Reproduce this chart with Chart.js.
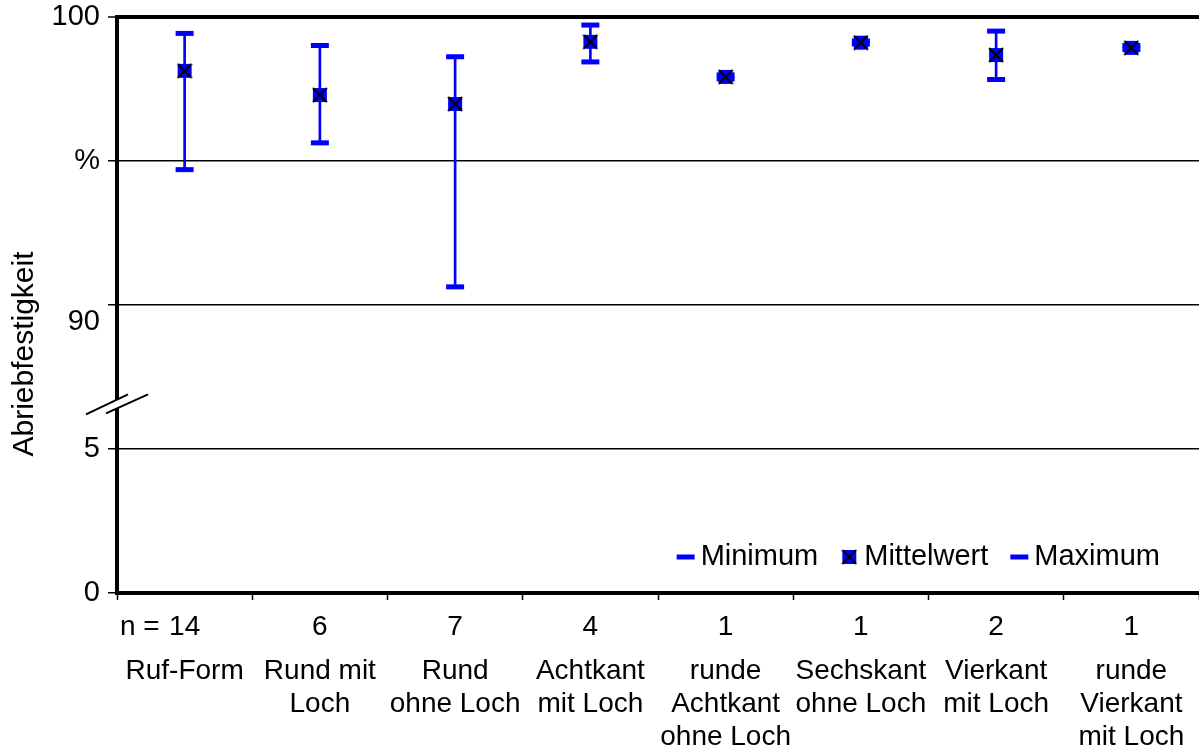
<!DOCTYPE html>
<html>
<head>
<meta charset="utf-8">
<script src="https://cdn.jsdelivr.net/npm/chart.js@4.4.1/dist/chart.umd.min.js"></script>
<style>
  html, body { margin: 0; padding: 0; background: #fff; }
  #wrap { width: 1199px; height: 749px; position: relative; }
</style>
</head>
<body>
<div id="wrap"><canvas id="chart"></canvas></div>
<script>
const categories = [
    ['Ruf-Form'],
    ['Rund mit', 'Loch'],
    ['Rund', 'ohne Loch'],
    ['Achtkant', 'mit Loch'],
    ['runde', 'Achtkant', 'ohne Loch'],
    ['Sechskant', 'ohne Loch'],
    ['Vierkant', 'mit Loch'],
    ['runde', 'Vierkant', 'mit Loch']
];
const sampleCounts = ['14', '6', '7', '4', '1', '1', '2', '1'];
const minimum = [94.70, 95.63, 90.63, 98.44, 97.85, 99.06, 97.83, 98.87];
const mittelwert = [98.13, 97.29, 96.98, 99.14, 97.92, 99.11, 98.68, 98.93];
const maximum = [99.43, 99.01, 98.62, 99.72, 97.99, 99.17, 99.51, 99.01];
// broken axis: lower part 0..5, upper part 90..100
const yTickValues = [80, 85, 90, 95, 100];
const yTickLabels = ['0', '5', '90', '%', '100'];

const BLUE = '#0000ff';
const FONT = "'Liberation Sans', Arial, sans-serif";

function makeMeanIcon() {
    const c = document.createElement('canvas');
    c.width = 16;
    c.height = 16;
    const g = c.getContext('2d');
    g.fillStyle = BLUE;
    g.fillRect(1, 1, 14, 14);
    g.strokeStyle = '#000';
    g.lineWidth = 2;
    g.beginPath();
    g.moveTo(1, 1); g.lineTo(15, 15);
    g.moveTo(15, 1); g.lineTo(1, 15);
    g.stroke();
    return c;
}
const meanIcon = makeMeanIcon();

const extras = {
    id: 'extras',
    afterDraw(chart) {
        const { ctx, chartArea, scales } = chart;
        const ys = scales.y, xs = scales.x;
        ctx.save();

        // axis break marks
        const bx = chartArea.left, by = ys.getPixelForValue(86.55);
        ctx.fillStyle = '#fff';
        ctx.beginPath();
        ctx.moveTo(bx - 31, by + 10);
        ctx.lineTo(bx + 11, by - 10);
        ctx.lineTo(bx + 31, by - 10);
        ctx.lineTo(bx - 11, by + 9);
        ctx.closePath();
        ctx.fill();
        ctx.strokeStyle = '#000';
        ctx.lineWidth = 2;
        ctx.beginPath();
        ctx.moveTo(bx - 31, by + 10); ctx.lineTo(bx + 11, by - 10);
        ctx.moveTo(bx - 11, by + 9); ctx.lineTo(bx + 31, by - 10);
        ctx.stroke();

        // y title
        ctx.fillStyle = '#000';
        ctx.save();
        ctx.font = '30px ' + FONT;
        ctx.translate(25, chartArea.top + 337);
        ctx.rotate(-Math.PI / 2);
        ctx.textAlign = 'center';
        ctx.textBaseline = 'middle';
        ctx.fillText('Abriebfestigkeit', 0, 0);
        ctx.restore();

        // "n =" in front of the counts row
        ctx.font = '28px ' + FONT;
        ctx.textAlign = 'left';
        ctx.textBaseline = 'middle';
        ctx.fillText('n =', chartArea.left + 3, xs.top + 7 + 10 + 28 * 1.2 / 2);

        // legend inside the plot, bottom right
        const items = chart.data.datasets.filter(d => d.type === 'line');
        ctx.font = '29px ' + FONT;
        const gap = 22;
        let total = 0;
        items.forEach((d, i) => {
            total += 18 + 6 + ctx.measureText(d.label).width + (i < items.length - 1 ? gap : 0);
        });
        let lx = chartArea.right - 39 - total;
        const ly = chartArea.bottom - 36;
        items.forEach(d => {
            if (d.pointStyle === meanIcon) {
                ctx.drawImage(meanIcon, lx + 1, ly - 8);
            } else {
                ctx.fillStyle = BLUE;
                ctx.fillRect(lx, ly - 2.5, 18, 5);
            }
            ctx.fillStyle = '#000';
            ctx.fillText(d.label, lx + 24, ly);
            lx += 24 + ctx.measureText(d.label).width + gap;
        });

        ctx.restore();
    }
};

new Chart(document.getElementById('chart'), {
    type: 'bar',
    data: {
        labels: sampleCounts,
        datasets: [
            {
                type: 'bar',
                label: 'Spannweite',
                data: minimum.map((m, i) => [m, maximum[i]]),
                backgroundColor: BLUE,
                borderWidth: 0,
                barThickness: 2,
                order: 3
            },
            {
                type: 'line',
                label: 'Minimum',
                data: minimum,
                showLine: false,
                pointStyle: 'line',
                pointRadius: 9,
                pointBorderWidth: 5,
                pointBorderColor: BLUE,
                pointBackgroundColor: BLUE,
                order: 2
            },
            {
                type: 'line',
                label: 'Mittelwert',
                data: mittelwert,
                showLine: false,
                pointStyle: meanIcon,
                pointRadius: 8,
                order: 0
            },
            {
                type: 'line',
                label: 'Maximum',
                data: maximum,
                showLine: false,
                pointStyle: 'line',
                pointRadius: 9,
                pointBorderWidth: 5,
                pointBorderColor: BLUE,
                pointBackgroundColor: BLUE,
                order: 1
            }
        ]
    },
    options: {
        responsive: true,
        maintainAspectRatio: false,
        animation: false,
        events: [],
        layout: { autoPadding: false, padding: { top: 17, right: 0, bottom: 0, left: 0 } },
        plugins: {
            legend: { display: false },
            tooltip: { enabled: false }
        },
        scales: {
            x: {
                type: 'category',
                labels: sampleCounts,
                offset: true,
                grid: { offset: true, drawOnChartArea: false, tickLength: 7, tickColor: '#000', tickWidth: 1.5 },
                border: { display: true, color: '#000', width: 4 },
                ticks: {
                    color: '#000', font: { family: FONT, size: 28 }, padding: 10,
                    autoSkip: false, maxRotation: 0, minRotation: 0
                },
                afterFit: s => { s.height = 50; s.paddingLeft = 0; s.paddingRight = 0; }
            },
            x2: {
                type: 'category',
                position: 'bottom',
                labels: categories,
                offset: true,
                grid: { display: false },
                border: { display: false },
                ticks: {
                    color: '#000', font: { family: FONT, size: 28, lineHeight: 1.18 }, padding: 4,
                    autoSkip: false, maxRotation: 0, minRotation: 0
                },
                afterFit: s => { s.height = 106; s.paddingLeft = 0; s.paddingRight = 0; }
            },
            y: {
                type: 'linear',
                min: 80,
                max: 100,
                afterBuildTicks: s => { s.ticks = yTickValues.map(v => ({ value: v })); },
                ticks: {
                    color: '#000',
                    font: { family: FONT, size: 29, lineHeight: 1.2 },
                    padding: 8,
                    callback: v => {
                        const label = yTickLabels[yTickValues.indexOf(v)];
                        return label === '90' ? ['', label] : label;
                    }
                },
                grid: {
                    color: '#000',
                    lineWidth: c => (c.tick && c.tick.value === 100 ? 4 : 1.5),
                    tickLength: 9,
                    tickWidth: 1.5,
                    tickColor: '#000'
                },
                border: { display: true, color: '#000', width: 4 },
                afterFit: s => { s.width = 117; s.paddingTop = 0; s.paddingBottom = 0; }
            }
        }
    },
    plugins: [extras]
});
</script>
</body>
</html>
